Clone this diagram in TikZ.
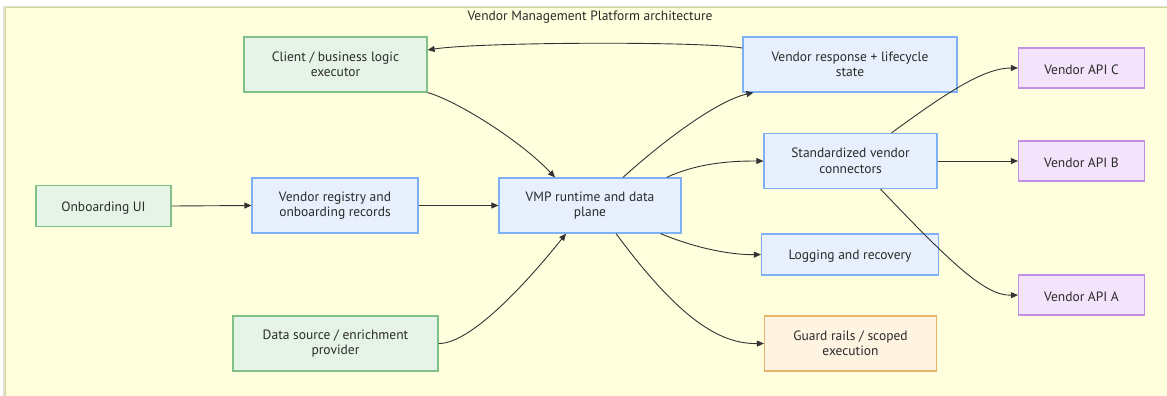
\documentclass[tikz,border=0pt]{standalone}
\usepackage{fontspec}
\setmainfont{PT Sans}
\usetikzlibrary{arrows.meta,calc}
\definecolor{bgy}{HTML}{FFFFDE}
\definecolor{bgyb}{HTML}{D6D68A}
\definecolor{gfill}{HTML}{E5F4E7}
\definecolor{gdraw}{HTML}{82C08A}
\definecolor{bfill}{HTML}{E8F0FD}
\definecolor{bdraw}{HTML}{7EB0F5}
\definecolor{pfill}{HTML}{F3E4FB}
\definecolor{pdraw}{HTML}{C38FE6}
\definecolor{ofill}{HTML}{FFF4E2}
\definecolor{odraw}{HTML}{E8B46A}
\definecolor{edge}{HTML}{333333}
\definecolor{txt}{HTML}{2A2A2A}
\begin{document}
\begin{tikzpicture}[x=1pt,y=-1pt,
  every node/.style={font=\fontsize{13.5}{15.5}\selectfont, text=txt, align=center, inner sep=0pt},
  sz/.style 2 args={minimum width=#1, minimum height=#2},
  shifted/.style={execute at begin node={\rule{0pt}{13pt}}},
  gbox/.style={shifted, fill=gfill, draw=gdraw, line width=1.2pt},
  bbox/.style={shifted, fill=bfill, draw=bdraw, line width=1.2pt},
  pbox/.style={shifted, fill=pfill, draw=pdraw, line width=1.2pt},
  obox/.style={shifted, fill=ofill, draw=odraw, line width=1.2pt},
  conn/.style={draw=edge, line width=0.9pt, -{Triangle[length=7pt,width=6pt]}}
]
\useasboundingbox (0,0) rectangle (1167,396);
\fill[white] (0,0) rectangle (1167,396);
\fill[black!12] (3,6) rectangle (1167,396);
\filldraw[fill=bgy, draw=bgyb, line width=1.2pt] (5.5,7.5) rectangle (1170,400);
\node (title) at (590,17) {Vendor Management Platform architecture};

\node[gbox, sz={183pt}{55pt}] (client) at (335.5,64.5) {Client / business logic\\executor};
\node[bbox, sz={214pt}{55pt}] (resp) at (850,64.5) {Vendor response + lifecycle\\state};
\node[pbox, sz={126pt}{40pt}] (apic) at (1081.5,68) {Vendor API C};
\node[bbox, sz={173pt}{55pt}] (std) at (850.5,161) {Standardized vendor\\connectors};
\node[pbox, sz={126pt}{40pt}] (apib) at (1081.5,161) {Vendor API B};
\node[gbox, sz={135pt}{41pt}] (onb) at (103.5,206) {Onboarding UI};
\node[bbox, sz={166pt}{55pt}] (reg) at (335,205.5) {Vendor registry and\\onboarding records};
\node[bbox, sz={182pt}{55pt}] (vmp) at (590,205.5) {VMP runtime and data\\plane};
\node[bbox, sz={177pt}{41pt}] (log) at (850,254.5) {Logging and recovery};
\node[pbox, sz={126pt}{40pt}] (apia) at (1081.5,295) {Vendor API A};
\node[gbox, sz={205pt}{55pt}] (src) at (335.5,343.5) {Data source / enrichment\\provider};
\node[obox, sz={172pt}{55pt}] (guard) at (850.5,343.5) {Guard rails / scoped\\execution};

% connectors
\draw[conn] ($(resp.west)+(0,-16.5)$) .. controls (700,41) and (480,42) .. ($(client.east)+(0,-14.5)$);
\draw[conn] (client.south east) .. controls (455,100) and (520,140) .. ($(vmp.north)+(-35,0)$);
\draw[conn] (onb.east) -- (reg.west);
\draw[conn] (reg.west -| reg.east) -- (vmp.west);
\draw[conn] (src.east) .. controls (470,344) and (525,285) .. ($(vmp.south)+(-24,0)$);
\draw[conn] ($(vmp.north)+(33,0)$) .. controls (670,135) and (720,100) .. ($(resp.south west)+(11,0)$);
\draw[conn] ($(vmp.north east)+(-15,0)$) .. controls (700,162) and (735,161) .. (std.west);
\draw[conn] ($(vmp.south east)+(-21,0)$) .. controls (700,250) and (735,255) .. (log.west);
\draw[conn] ($(vmp.south)+(26,0)$) .. controls (680,320) and (720,344) .. (guard.west);
\draw[conn] ($(std.north)+(41,0)$) .. controls (950,90) and (985,68) .. (apic.west);
\draw[conn] (std.east) -- (apib.west);
\draw[conn] ($(std.south)+(30,0)$) .. controls (950,262) and (985,296) .. (apia.west);
\end{tikzpicture}
\end{document}
